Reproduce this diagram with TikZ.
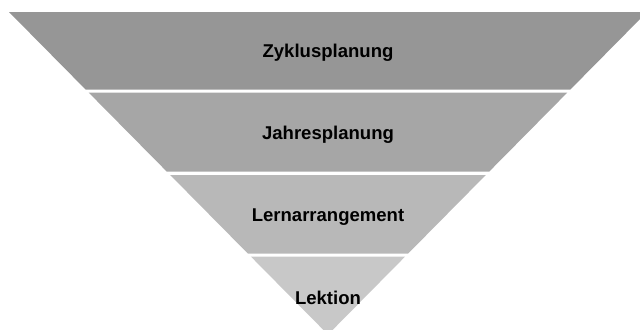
\documentclass[tikz,border=0pt]{standalone}
\usepackage{fontspec}
\setmainfont{Liberation Sans}
\usepackage{tikz}
\definecolor{bandA}{RGB}{150,150,150}
\definecolor{bandB}{RGB}{166,166,166}
\definecolor{bandC}{RGB}{184,184,184}
\definecolor{bandD}{RGB}{200,200,200}
\tikzset{
	band/.style={draw=none},
	lbl/.style={anchor=base,font=\fontsize{13.9}{16}\selectfont\bfseries,inner sep=0pt}
}
\begin{document}
\begin{tikzpicture}[x=0.75pt,y=-0.75pt]
	\useasboundingbox (0,0) rectangle (640,329);
	\clip (0,0) rectangle (640,329);
	% bands of the funnel, top to bottom
	\fill[band,bandA] (9,12) -- (647,12) -- (570.4,89.5) -- (85.6,89.5) -- cycle;
	\fill[band,bandB] (88.6,92.5) -- (567.4,92.5) -- (489.3,171.5) -- (166.7,171.5) -- cycle;
	\fill[band,bandC] (170.2,175) -- (485.8,175) -- (408.2,253.5) -- (247.8,253.5) -- cycle;
	\fill[band,bandD] (250.8,256.5) -- (405.2,256.5) -- (328,334.6) -- cycle;
	% labels
	\node[lbl] (zyklus) at (328,57.7) {Zyklusplanung};
	\node[lbl] (jahr) at (328,139.3) {Jahresplanung};
	\node[lbl] (lern) at (328,221) {Lernarrangement};
	\node[lbl] (lektion) at (328,304) {Lektion};
\end{tikzpicture}
\end{document}
